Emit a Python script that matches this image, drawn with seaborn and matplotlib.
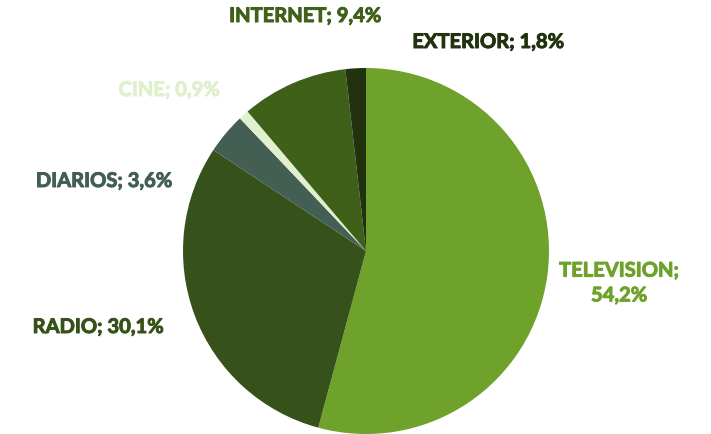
import matplotlib.pyplot as plt
import matplotlib.patheffects as pe
import seaborn as sns

# Datos
medios = ["TELEVISION", "RADIO", "DIARIOS", "CINE", "INTERNET", "EXTERIOR"]
porcentajes = [54.2, 30.1, 3.6, 0.9, 9.4, 1.8]
colores = ["#6EA22B", "#37511A", "#435F53", "#E0EFCC", "#3F6019", "#22310E"]
etiquetas = ["TELEVISION;\n54,2%", "RADIO; 30,1%", "DIARIOS; 3,6%",
             "CINE; 0,9%", "INTERNET; 9,4%", "EXTERIOR; 1,8%"]

sns.set_theme(style="white")
plt.rcParams['font.family'] = ['Lato', 'DejaVu Sans']

fig = plt.figure(figsize=(7.11, 4.34), dpi=100)
ax = fig.add_axes([0, 0, 1, 1])

ax.pie(porcentajes, colors=colores, startangle=90, counterclock=False,
       radius=1, center=(0, 0), wedgeprops=dict(linewidth=0))

# Posicion de las etiquetas (en pixeles de la imagen)
cx, cy, r = 366, 251, 183
pos_px = [(619, 283), (98, 327), (104, 181), (169, 90), (305, 16), (488, 42)]
for lab, col, (px, py) in zip(etiquetas, colores, pos_px):
    ax.text((px - cx) / r, (cy - py) / r, lab, color=col, fontsize=14.5,
            fontweight='bold', ha='center', va='center', linespacing=1.3,
            path_effects=[pe.withStroke(linewidth=0.7, foreground=col)])

ax.set_xlim(-cx / r, (711 - cx) / r)
ax.set_ylim(-(434 - cy) / r, cy / r)
ax.set_aspect('equal')
ax.axis('off')

plt.savefig('out.png', dpi=100)
